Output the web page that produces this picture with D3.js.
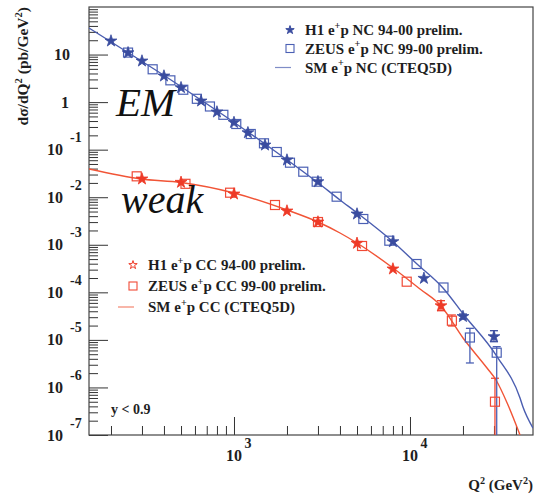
<!DOCTYPE html>
<html><head><meta charset="utf-8">
<script src="https://cdn.jsdelivr.net/npm/d3@7"></script>
<style>
html,body{margin:0;padding:0;background:#fff;}
svg{display:block;}
text{font-family:"Liberation Serif","DejaVu Serif",serif;}
</style></head>
<body><svg id="c" width="535" height="498"></svg>
<script>
// ---------- data ----------
const ncCurveQ2  = [150, 247, 405, 649, 1013, 1501, 2081, 2962, 4004, 5064, 8009, 10960, 15400, 20270, 31220, 42190, 43860, 50000];
const ncCurveVal = [36.2, 11.3, 3.54, 1.108, 0.3638, 0.1316, 0.0551, 0.0209, 0.00874, 0.004546, 0.00116, 0.000394, 0.0001234, 3.34e-5, 4.47e-6, 6.0e-7, 3.88e-7, 1.4e-7];
const ccCurveQ2  = [150, 296, 500, 1000, 2001, 3001, 4004, 4999, 8009, 11400, 15010, 20010, 27390, 30820, 36060, 42190];
const ccCurveVal = [0.0392, 0.02416, 0.0204, 0.01227, 0.005386, 0.003013, 0.001768, 0.00109, 0.0003248, 0.0001175, 5.16e-5, 1.096e-5, 2.56e-6, 1.434e-6, 4.27e-7, 1.0e-7];

const h1ncQ2  = [200, 250, 300, 400, 500, 650, 800, 1000, 1200, 1500, 2000, 3000, 5000, 8000, 12000, 20000, 30000];
const h1ncVal = [19.3, 10.9, 7.32, 3.54, 2.01, 1.055, 0.62, 0.373, 0.227, 0.125, 0.0606, 0.0212, 0.00444, 0.00116, 0.000197, 3.10e-5, 1.17e-5];
const h1ncLo  = [null, null, null, null, null, null, null, null, null, null, null, null, null, null, null, 2.75e-5, 9.16e-6];
const h1ncHi  = [null, null, null, null, null, null, null, null, null, null, null, null, null, null, null, 3.5e-5, 1.56e-5];

const zncQ2  = [250, 345, 435, 515, 615, 730, 870, 1030, 1245, 1480, 1750, 2080, 2475, 2950, 3830, 5430, 7630, 10900, 15500, 21900, 31100];
const zncVal = [11.0, 4.9, 2.87, 1.82, 1.174, 0.809, 0.541, 0.3465, 0.2135, 0.1361, 0.0893, 0.0532, 0.0344, 0.0212, 0.01026, 0.003484, 0.001218, 0.000394, 0.0001264, 1.122e-5, 5.38e-6];
const zncLo  = [null, null, null, null, null, null, null, null, null, null, null, null, null, null, null, null, null, null, null, 3.27e-6, 0];
const zncHi  = [null, null, null, null, null, null, null, null, null, null, null, null, null, null, null, null, null, null, null, 1.75e-5, 7.2e-6];

const h1ccQ2  = [300, 500, 1000, 2000, 3000, 5000, 8000, 15000];
const h1ccVal = [0.0242, 0.0206, 0.01169, 0.00513, 0.00301, 0.001074, 0.00031, 5.21e-5];
const h1ccLo  = [null, null, null, null, null, null, null, 4.11e-5];
const h1ccHi  = [null, null, null, null, null, null, null, 6.67e-5];

const zccQ2  = [280, 530, 950, 1710, 3000, 5340, 9580, 17300, 30400];
const zccVal = [0.0275, 0.01915, 0.01245, 0.00686, 0.00301, 0.000943, 0.0001674, 2.53e-5, 5.01e-7];
const zccLo  = [null, null, null, null, null, null, null, 1.96e-5, 0];
const zccHi  = [null, null, null, null, null, null, null, 3.34e-5, 1.56e-6];

const yMajorTicks = [1e-7, 1e-6, 1e-5, 1e-4, 1e-3, 1e-2, 1e-1, 1, 10];
const yTickExp    = [-7, -6, -5, -4, -3, -2, -1, 0, 1];
const xMajorTicks = [1000, 10000];
const xTickExp    = [3, 4];
const ncLegend = ["H1 e|+|p NC 94-00 prelim.", "ZEUS e|+|p NC 99-00 prelim.", "SM e|+|p NC (CTEQ5D)"];
const ccLegend = ["H1 e|+|p CC 94-00 prelim.", "ZEUS e|+|p CC 99-00 prelim.", "SM e|+|p CC (CTEQ5D)"];

// ---------- setup ----------
const svg = d3.select("#c");
const L = 89, R = 533, T = 7, B = 435;
const x = d3.scaleLog().domain([150, 50000]).range([L, R]);
const y = d3.scaleLog().domain([1e-7, 100]).range([B, T]).clamp(true);

const BLUE = "#3a4c9f", BLUE_SQ = "#4b60b4", BLUE_LN = "#4a5db0";
const RED = "#ee3a27", RED_SQ = "#f04a36", RED_LN = "#f15436";
const INK = "#1e1e1e";

svg.append("defs").append("clipPath").attr("id", "clip")
  .append("rect").attr("x", L).attr("y", T).attr("width", R - L).attr("height", B - T);

// minor ticks
const yMinor = [];
for (let e = -7; e <= 1; e++) for (let k = 2; k <= 9; k++) yMinor.push(k * Math.pow(10, e));
const xMinor = [];
[100, 1000, 10000].forEach(d => { for (let k = 2; k <= 9; k++) { const v = k * d; if (v > 150 && v < 50000) xMinor.push(v); } });

function styleAxis(g) {
  g.select(".domain").remove();
  g.selectAll("line").attr("stroke", "#333").attr("stroke-width", 1);
}
svg.append("g").attr("transform", `translate(${L},0)`)
  .call(d3.axisLeft(y).tickValues(yMajorTicks).tickSize(-19).tickFormat("")).call(styleAxis);
svg.append("g").attr("transform", `translate(${L},0)`)
  .call(d3.axisLeft(y).tickValues(yMinor).tickSize(-9).tickFormat("")).call(styleAxis);
svg.append("g").attr("transform", `translate(0,${B})`)
  .call(d3.axisBottom(x).tickValues(xMajorTicks).tickSize(-18).tickFormat("")).call(styleAxis);
svg.append("g").attr("transform", `translate(0,${B})`)
  .call(d3.axisBottom(x).tickValues(xMinor).tickSize(-9).tickFormat("")).call(styleAxis);

// frame
svg.append("rect").attr("x", L).attr("y", T).attr("width", R - L).attr("height", B - T)
  .attr("fill", "none").attr("stroke", "#444").attr("stroke-width", 1.2);

// tick labels
const LBL = 16, EXPF = 14;
yMajorTicks.forEach((v, i) => {
  const e = yTickExp[i], yy = y(v);
  if (e === 0 || e === 1) {
    svg.append("text").attr("x", e === 0 ? 69 : 70).attr("y", yy + 5.5).attr("text-anchor", "end")
      .attr("font-size", LBL).attr("font-weight", "bold").attr("fill", INK).text(e === 0 ? "1" : "10");
  } else {
    svg.append("text").attr("x", 63).attr("y", yy + 5.5).attr("text-anchor", "end")
      .attr("font-size", LBL).attr("font-weight", "bold").attr("fill", INK).text("10");
    svg.append("text").attr("x", 70).attr("y", yy - 7.5).attr("text-anchor", "start")
      .attr("font-size", EXPF).attr("font-weight", "bold").attr("fill", INK).text(String(e));
  }
});
xMajorTicks.forEach((v, i) => {
  const xx = x(v);
  svg.append("text").attr("x", xx).attr("y", 461).attr("text-anchor", "middle")
    .attr("font-size", LBL).attr("font-weight", "bold").attr("fill", INK).text("10");
  svg.append("text").attr("x", xx + 10.5).attr("y", 448).attr("text-anchor", "start")
    .attr("font-size", EXPF).attr("font-weight", "bold").attr("fill", INK).text(String(xTickExp[i]));
});

// rich text helper: parts separated by "|", odd parts are superscripts
function rich(g, str, size) {
  const parts = str.split("|");
  let shifted = false;
  parts.forEach((p, i) => {
    const sup = i % 2 === 1;
    const ts = g.append("tspan").text(p);
    if (sup) { ts.attr("font-size", size * 0.68).attr("dy", -size * 0.42); shifted = true; }
    else if (shifted) { ts.attr("dy", size * 0.42); shifted = false; }
  });
}

// axis titles
const xt = svg.append("text").attr("x", 533).attr("y", 490).attr("text-anchor", "end")
  .attr("font-size", 15).attr("font-weight", "bold").attr("fill", INK);
rich(xt, "Q|2| (GeV|2|)", 15);
const yt = svg.append("text").attr("transform", "translate(28,7) rotate(-90)").attr("text-anchor", "end")
  .attr("font-size", 15.5).attr("font-weight", "bold").attr("fill", INK);
rich(yt, "dσ/dQ|2| (pb/GeV|2|)", 15.5);

// curves
const line = d3.line().x(d => x(d[0])).y(d => y(d[1])).curve(d3.curveMonotoneX);
const plot = svg.append("g").attr("clip-path", "url(#clip)");
plot.append("path").datum(ncCurveQ2.map((q, i) => [q, ncCurveVal[i]]))
  .attr("d", line).attr("fill", "none").attr("stroke", BLUE_LN).attr("stroke-width", 1.4);
plot.append("path").datum(ccCurveQ2.map((q, i) => [q, ccCurveVal[i]]))
  .attr("d", line).attr("fill", "none").attr("stroke", RED_LN).attr("stroke-width", 1.4);

// error bars
function errs(Q, V, lo, hi, color) {
  Q.forEach((q, i) => {
    if (lo[i] === null) return;
    const xx = x(q);
    const y1 = lo[i] === 0 ? B : y(lo[i]);
    const y2 = y(hi[i]);
    plot.append("line").attr("x1", xx).attr("x2", xx).attr("y1", y1).attr("y2", y2)
      .attr("stroke", color).attr("stroke-width", 1.3);
    [y1, y2].forEach(yy => {
      if (yy >= B) return;
      plot.append("line").attr("x1", xx - 4).attr("x2", xx + 4).attr("y1", yy).attr("y2", yy)
        .attr("stroke", color).attr("stroke-width", 1.3);
    });
  });
}
errs(zccQ2, zccVal, zccLo, zccHi, RED_SQ);
errs(h1ccQ2, h1ccVal, h1ccLo, h1ccHi, RED);
errs(zncQ2, zncVal, zncLo, zncHi, BLUE_SQ);
errs(h1ncQ2, h1ncVal, h1ncLo, h1ncHi, BLUE);

const star = d3.symbol().type(d3.symbolStar).size(44);
const starSmall = d3.symbol().type(d3.symbolStar).size(22);
function squares(Q, V, color) {
  plot.selectAll(null).data(Q.map((q, i) => [q, V[i]])).enter().append("rect")
    .attr("x", d => x(d[0]) - 4.5).attr("y", d => y(d[1]) - 4.5)
    .attr("width", 9).attr("height", 9).attr("fill", "none").attr("stroke", color).attr("stroke-width", 1.2);
}
function stars(Q, V, color) {
  plot.selectAll(null).data(Q.map((q, i) => [q, V[i]])).enter().append("path")
    .attr("d", star).attr("transform", d => `translate(${x(d[0])},${y(d[1])})`)
    .attr("fill", color).attr("stroke", color).attr("stroke-width", 0.8);
}
squares(zccQ2, zccVal, RED_SQ);
stars(h1ccQ2, h1ccVal, RED);
squares(zncQ2, zncVal, BLUE_SQ);
stars(h1ncQ2, h1ncVal, BLUE);

// big labels
svg.append("text").attr("x", 116).attr("y", 116).attr("font-size", 41).attr("font-style", "italic").attr("fill", "#111").text("EM");
svg.append("text").attr("x", 121).attr("y", 213).attr("font-size", 40).attr("font-style", "italic").attr("fill", "#111").text("weak");
svg.append("text").attr("x", 111).attr("y", 414).attr("font-size", 14).attr("font-weight", "bold").attr("fill", INK).text("y < 0.9");

// legends
function legend(mx, ys, labels, starC, sqC, lnC, openStar) {
  const g = svg.append("g");
  g.append("path").attr("d", starSmall).attr("transform", `translate(${mx},${ys[0]})`)
    .attr("fill", openStar ? "none" : starC).attr("stroke", starC).attr("stroke-width", 1);
  g.append("rect").attr("x", mx - 4).attr("y", ys[1] - 4).attr("width", 8).attr("height", 8)
    .attr("fill", "none").attr("stroke", sqC).attr("stroke-width", 1.1);
  g.append("line").attr("x1", mx - 15).attr("x2", mx + 1).attr("y1", ys[2]).attr("y2", ys[2])
    .attr("stroke", lnC).attr("stroke-width", 1.2).attr("opacity", 0.7);
  labels.forEach((lab, i) => {
    const t = g.append("text").attr("x", mx + 15).attr("y", ys[i] + 5)
      .attr("font-size", 15).attr("font-weight", "bold").attr("fill", INK);
    rich(t, lab, 15);
  });
}
legend(290, [30, 48.5, 67.5], ncLegend, BLUE, BLUE_SQ, BLUE_LN, false);
legend(133, [265, 286, 307], ccLegend, RED, RED_SQ, RED_LN, true);
</script></body></html>
